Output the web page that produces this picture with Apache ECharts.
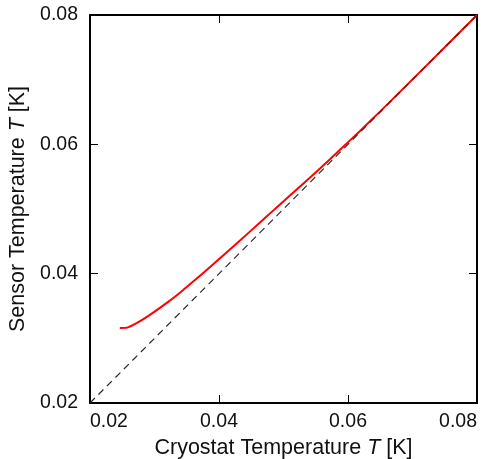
<!DOCTYPE html>
<html>
<head>
<meta charset="utf-8">
<script src="https://cdn.jsdelivr.net/npm/echarts@6/dist/echarts.min.js"></script>
<style>
html, body { margin: 0; padding: 0; background: #fff; }
#myEchart1 { width: 483px; height: 459px; }
</style>
</head>
<body>
<div id="myEchart1"></div>
<script>
// values
var cryostatT = [0.02462, 0.02575, 0.0275, 0.0294, 0.0318, 0.034, 0.0365, 0.0387, 0.0402, 0.043, 0.0464, 0.048, 0.051, 0.0557, 0.0588, 0.0619, 0.065, 0.07, 0.075, 0.08];
var sensorT   = [0.03160, 0.03165, 0.0325, 0.0337, 0.0354, 0.0371, 0.0392, 0.0411, 0.04242, 0.0449, 0.04795, 0.0494, 0.05208, 0.0563, 0.0592, 0.0621, 0.0651, 0.07004, 0.07501, 0.08];
var diagX = [0.02, 0.08];
var axisTicks = [0.02, 0.04, 0.06, 0.08];

var font = "'Liberation Sans', Arial, sans-serif";

var sensorData = cryostatT.map(function (x, i) { return [x, sensorT[i]]; });
var diagData = diagX.map(function (x) { return [x, x]; });

var myChart = echarts.init(document.getElementById('myEchart1'));

function axisBase(pos, showLabel) {
  return {
    type: 'value',
    position: pos,
    min: axisTicks[0],
    max: axisTicks[axisTicks.length - 1],
    interval: 0.02,
    axisLine: { show: true, onZero: false, lineStyle: { color: '#000', width: 2 } },
    axisTick: { show: true, inside: true, length: 8, lineStyle: { color: '#000', width: 1 } },
    splitLine: { show: false },
    axisLabel: {
      show: showLabel,
      color: '#111',
      fontFamily: font,
      fontSize: 19.5
    }
  };
}

var nameStyle = {
  color: '#111', fontFamily: font, fontSize: 21.5,
  rich: { i: { fontStyle: 'italic', fontFamily: font, fontSize: 21.5, color: '#111' } }
};

var xBottom = axisBase('bottom', true);
xBottom.axisLabel.margin = 9;
xBottom.axisLabel.alignMinLabel = 'left';
xBottom.axisLabel.alignMaxLabel = 'right';
xBottom.name = 'Cryostat Temperature {i|T} [K]';
xBottom.nameLocation = 'middle';
xBottom.nameGap = 31;
xBottom.nameTextStyle = nameStyle;

var xTop = axisBase('top', false);

var yLeft = axisBase('left', true);
yLeft.axisLabel.margin = 12;
yLeft.name = 'Sensor Temperature {i|T} [K]';
yLeft.nameLocation = 'middle';
yLeft.nameGap = 58;
yLeft.nameTextStyle = nameStyle;

var yRight = axisBase('right', false);

var option = {
  animation: false,
  grid: { left: 90, right: 6, top: 15, bottom: 56, containLabel: false, outerBoundsMode: 'none' },
  xAxis: [xBottom, xTop],
  yAxis: [yLeft, yRight],
  series: [
    {
      name: 'sensor',
      type: 'line',
      xAxisIndex: 0,
      yAxisIndex: 0,
      data: sensorData,
      showSymbol: false,
      smooth: 0.15,
      lineStyle: { color: '#ff0000', width: 2 },
      z: 2
    },
    {
      name: 'diagonal',
      type: 'line',
      xAxisIndex: 0,
      yAxisIndex: 0,
      data: diagData,
      showSymbol: false,
      lineStyle: { color: '#2a2a2a', width: 1.2, type: [7, 5] },
      z: 3
    }
  ]
};

option && myChart.setOption(option);
window.addEventListener('resize', function () { myChart.resize(); });
</script>
</body>
</html>
